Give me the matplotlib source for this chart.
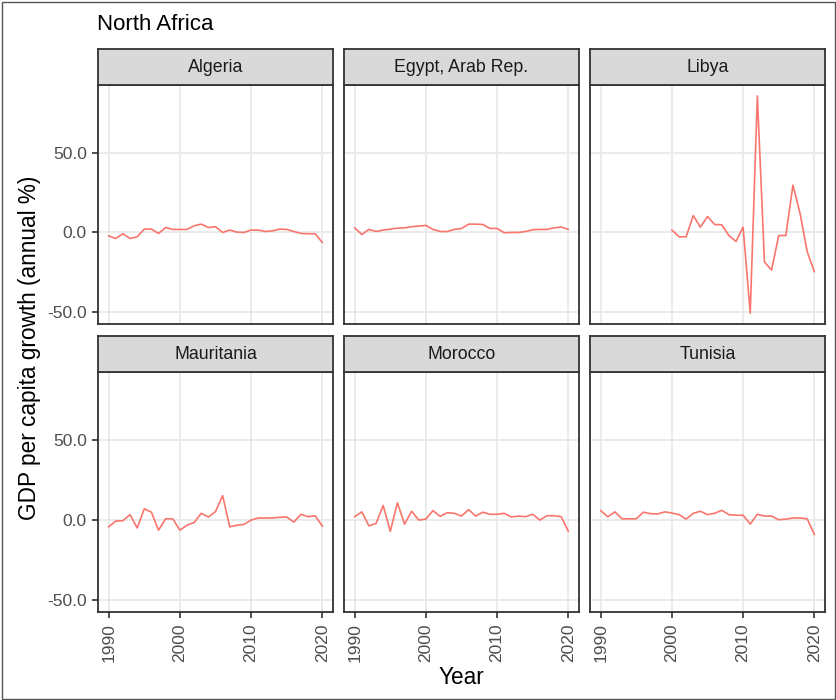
import matplotlib
matplotlib.use('Agg')
import matplotlib.pyplot as plt
from matplotlib.patches import Rectangle
import numpy as np

plt.rcParams['font.family'] = ['Liberation Sans', 'DejaVu Sans']
plt.rcParams['axes.unicode_minus'] = False

# GDP per capita growth (annual %)
years = list(range(1990, 2021))
libya_years = list(range(2000, 2021))

algeria = [-2.1, -3.8, -0.8, -3.8, -2.7, 2.1, 2.1, -0.6, 3.1, 1.9, 1.9, 1.9, 4.2, 5.2, 3.1, 3.6,
           0.0, 1.5, 0.2, 0.0, 1.5, 1.5, 0.6, 1.0, 2.1, 1.9, 0.6, -0.6, -0.8, -0.8, -6.3]
egypt = [2.9, -1.3, 1.9, 0.6, 1.5, 2.1, 2.7, 2.9, 3.6, 4.0, 4.4, 1.9, 0.6, 0.6, 1.9, 2.5,
         5.2, 5.2, 5.0, 2.5, 2.5, -0.2, 0.0, 0.0, 0.6, 1.7, 1.9, 1.9, 2.9, 3.4, 1.9]
libya = [1.5, -2.7, -2.7, 10.6, 3.3, 10.0, 5.0, 4.8, -1.9, -5.6, 3.3, -50.5, 85.5,
         -18.5, -23.5, -1.9, -1.9, 29.6, 11.9, -12.0, -24.5]
mauritania = [-4.2, -0.6, -0.4, 3.4, -4.9, 7.0, 4.9, -6.3, 0.8, 0.8, -6.3, -3.2, -1.5, 4.2, 1.9, 5.3,
              15.2, -4.2, -3.2, -2.7, 0.0, 1.3, 1.3, 1.3, 1.7, 1.9, -1.3, 3.6, 2.1, 2.7, -3.8]
morocco = [2.1, 5.1, -3.6, -2.1, 9.1, -7.0, 10.8, -2.5, 5.5, 0.0, 0.6, 5.9, 2.3, 4.6, 4.2, 2.5,
           6.5, 2.5, 4.9, 3.6, 3.6, 4.2, 1.9, 2.5, 2.1, 3.6, 0.0, 2.7, 2.7, 2.1, -7.0]
tunisia = [5.9, 2.1, 5.1, 0.8, 0.8, 0.8, 4.9, 4.0, 3.8, 5.1, 4.4, 3.4, 0.6, 4.2, 5.5, 3.4,
           4.2, 6.1, 3.4, 3.0, 3.0, -2.5, 3.6, 2.5, 2.5, 0.2, 0.6, 1.3, 1.3, 0.8, -8.9]

countries = ['Algeria', 'Egypt, Arab Rep.', 'Libya', 'Mauritania', 'Morocco', 'Tunisia']
series = [(years, algeria), (years, egypt), (libya_years, libya),
          (years, mauritania), (years, morocco), (years, tunisia)]

x_ticks = [1990, 2000, 2010, 2020]
y_ticks = [-50, 0, 50]
y_labels = ['-50.0', '0.0', '50.0']

W, H = 837, 700
fig = plt.figure(figsize=(W / 100, H / 100), dpi=100)

# shared scales with ggplot-style 5% expansion
all_y = np.concatenate([np.array(s[1]) for s in series])
ymin, ymax = all_y.min(), all_y.max()
yr = ymax - ymin
ylim = (ymin - 0.05 * yr, ymax + 0.05 * yr)
xlim = (1990 - 1.5, 2020 + 1.5)

col_left = [98, 344, 590]
pw = 235
rows = [(49, 85, 324), (336, 372, 612)]  # strip top, panel top, panel bottom

border = '#333333'
line_col = '#F8766D'

for i, name in enumerate(countries):
    r, c = divmod(i, 3)
    st, pt, pb = rows[r]
    x0 = col_left[c]
    ax = fig.add_axes([x0 / W, 1 - pb / H, pw / W, (pb - pt) / H])
    xs, ys = series[i]
    ax.plot(xs, ys, color=line_col, lw=1.2, zorder=3)
    ax.set_xlim(*xlim)
    ax.set_ylim(*ylim)
    ax.set_xticks(x_ticks)
    ax.set_yticks(y_ticks)
    ax.grid(True, color='#EBEBEB', lw=1.4, zorder=0)
    ax.set_axisbelow(True)
    for s in ax.spines.values():
        s.set_color(border)
        s.set_linewidth(1.3)
    ax.tick_params(length=4.5, width=1.2, color=border, labelcolor='#4D4D4D', labelsize=12.5)
    if c == 0:
        ax.set_yticklabels(y_labels)
    else:
        ax.tick_params(axis='y', left=False, labelleft=False)
    if r == 1:
        ax.set_xticklabels([str(t) for t in x_ticks], rotation=90)
    else:
        ax.tick_params(axis='x', bottom=False, labelbottom=False)

    # facet strip
    sax = fig.add_axes([x0 / W, 1 - pt / H, pw / W, (pt - st) / H])
    sax.set_facecolor('#D9D9D9')
    sax.set_xticks([])
    sax.set_yticks([])
    for s in sax.spines.values():
        s.set_color(border)
        s.set_linewidth(1.3)
    sax.text(0.5, 0.5, name, ha='center', va='center', fontsize=12.8, color='#1A1A1A',
             transform=sax.transAxes)

fig.text(97 / W, 1 - 24 / H, 'North Africa', fontsize=16, ha='left', va='center')
fig.text(30 / W, 1 - 348 / H, 'GDP per capita growth (annual %)', fontsize=16.3,
         rotation=90, ha='center', va='center')
fig.text(461 / W, 1 - 677 / H, 'Year', fontsize=16.3, ha='center', va='center')

fig.patches.append(Rectangle((0.002, 0.002), 0.996, 0.995, transform=fig.transFigure,
                             fill=False, edgecolor='#555555', lw=1))

fig.savefig('out.png', dpi=100)
